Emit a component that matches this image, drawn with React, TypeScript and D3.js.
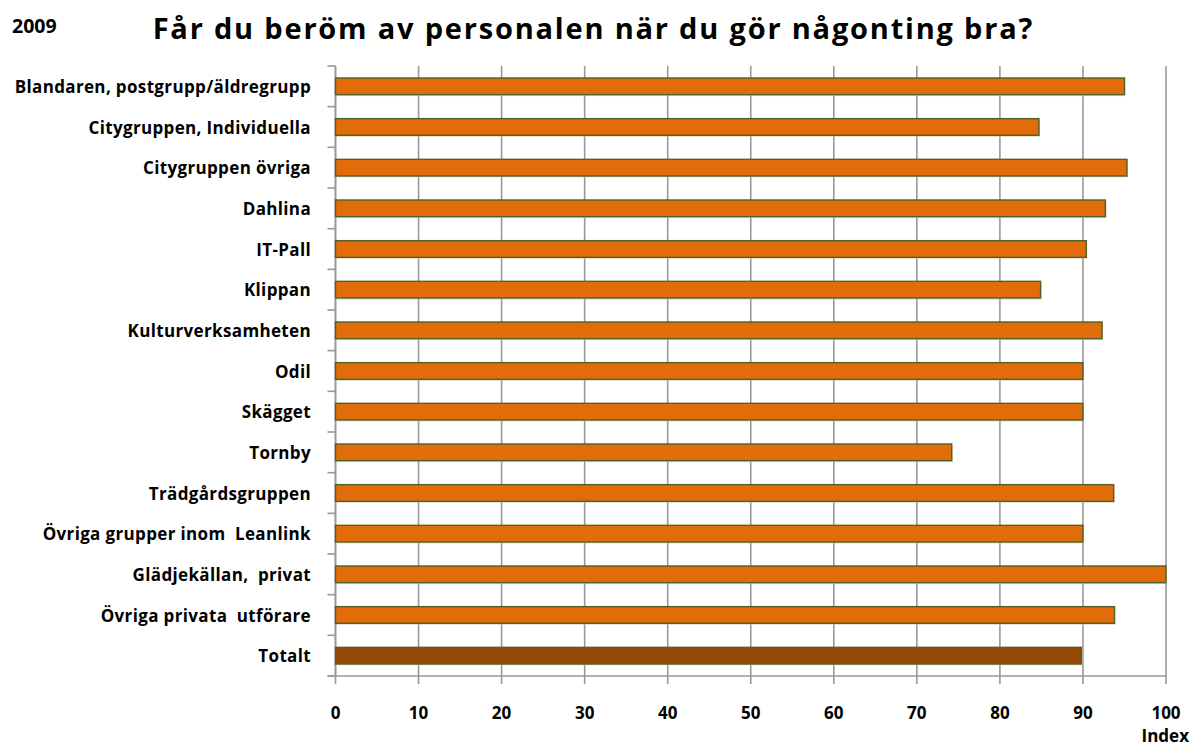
import React from "react";
import * as d3 from "d3";

const categories = [
  "Blandaren, postgrupp/äldregrupp",
  "Citygruppen, Individuella",
  "Citygruppen övriga",
  "Dahlina",
  "IT-Pall",
  "Klippan",
  "Kulturverksamheten",
  "Odil",
  "Skägget",
  "Tornby",
  "Trädgårdsgruppen",
  "Övriga grupper inom  Leanlink",
  "Glädjekällan,  privat",
  "Övriga privata  utförare",
  "Totalt",
];

const values = [95, 84.7, 95.3, 92.7, 90.4, 84.9, 92.3, 90, 90, 74.2, 93.7, 90, 100, 93.8, 89.8];

const xTicks = [0, 10, 20, 30, 40, 50, 60, 70, 80, 90, 100];

const title = "Får du beröm av personalen när du gör någonting bra?";
const yearLabel = "2009";
const axisTitle = "Index";

const W = 1192;
const H = 745;
const plot = { left: 335.5, right: 1166, top: 66, bottom: 676 };
const FONT = "'Open Sans', Lato, sans-serif";
const TITLE_SPACING = 1.8;

export default function App() {
  const x = d3.scaleLinear().domain([0, 100]).range([plot.left, plot.right]);
  const y = d3
    .scaleBand<string>()
    .domain(categories)
    .range([plot.top, plot.bottom])
    .paddingInner(0.59)
    .paddingOuter(0.295);
  const step = y.step();
  const boundaries = d3.range(categories.length + 1).map((i) => plot.top + i * step);

  return (
    <svg
      width={W}
      height={H}
      style={{ position: "absolute", left: 0, top: 0, background: "#fff" }}
      fontFamily={FONT}
    >
      <text x={12} y={33} fontSize={19.5} fontWeight={700} fill="#000">
        {yearLabel}
      </text>
      <text
        x={592.5 + TITLE_SPACING / 2}
        y={38.5}
        fontSize={29}
        fontWeight={700}
        fill="#000"
        textAnchor="middle"
        letterSpacing={TITLE_SPACING}
      >
        {title}
      </text>

      {/* vertical gridlines */}
      {xTicks.map((t) => (
        <line
          key={"g" + t}
          x1={x(t)}
          x2={x(t)}
          y1={plot.top}
          y2={plot.bottom + 8}
          stroke="#999"
          strokeWidth={1.6}
        />
      ))}

      {/* category axis */}
      <line x1={plot.left} x2={plot.left} y1={plot.top} y2={plot.bottom} stroke="#999" strokeWidth={1.6} />
      {boundaries.map((b, i) => (
        <line key={"yt" + i} x1={plot.left - 8} x2={plot.left} y1={b} y2={b} stroke="#999" strokeWidth={1.6} />
      ))}
      <line x1={plot.left - 8} x2={plot.right} y1={plot.bottom} y2={plot.bottom} stroke="#999" strokeWidth={1.6} />

      {/* bars */}
      {categories.map((c, i) => (
        <g key={c}>
          <rect
            x={x(0) + 1}
            y={(y(c) as number) + 1.5}
            width={x(values[i]) - x(0)}
            height={y.bandwidth()}
            fill="#c9d3b8"
            opacity={0.6}
          />
          <rect
            x={x(0)}
            y={y(c) as number}
            width={x(values[i]) - x(0)}
            height={y.bandwidth()}
            fill={c === "Totalt" ? "#974806" : "#e36c0a"}
            stroke="#4f6228"
            strokeWidth={1.4}
          />
        </g>
      ))}

      {/* category labels */}
      {categories.map((c) => (
        <text
          key={"l" + c}
          x={311}
          y={(y(c) as number) + y.bandwidth() / 2 + 6.5}
          textAnchor="end"
          fontSize={17}
          fontWeight={700}
          fill="#000"
          letterSpacing={0.35}
          style={{ whiteSpace: "pre" }}
        >
          {c}
        </text>
      ))}

      {/* value axis labels */}
      {xTicks.map((t) => (
        <text
          key={"xl" + t}
          x={x(t)}
          y={719}
          textAnchor="middle"
          fontSize={17}
          fontWeight={700}
          fill="#000"
        >
          {t}
        </text>
      ))}
      <text x={1189} y={741.5} textAnchor="end" fontSize={17} fontWeight={700} fill="#000">
        {axisTitle}
      </text>
    </svg>
  );
}
